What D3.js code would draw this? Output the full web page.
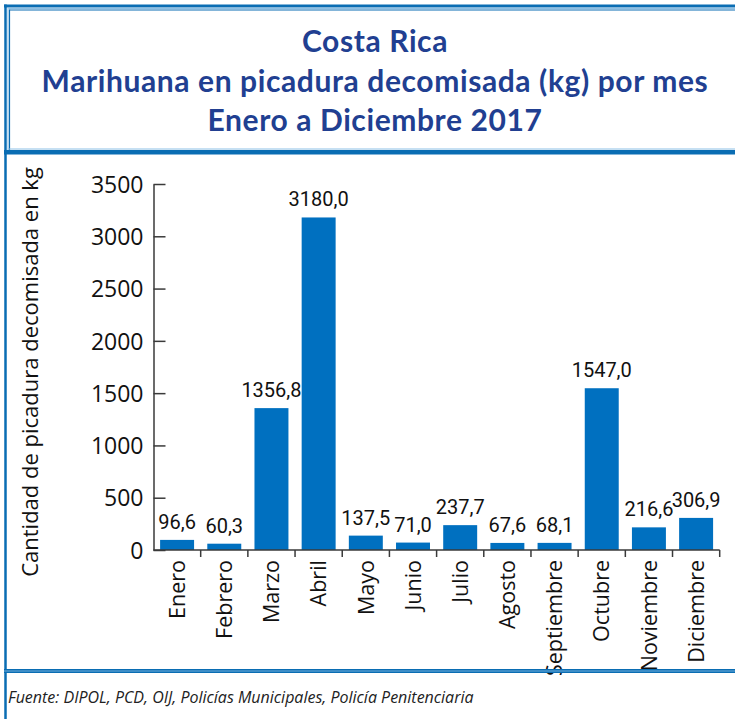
<!DOCTYPE html>
<html><head><meta charset="utf-8">
<script src="https://cdn.jsdelivr.net/npm/d3@7"></script>
<style>
html,body{margin:0;padding:0;background:#fff;}
svg{display:block;}
</style></head>
<body>
<svg id="c" width="735" height="719"></svg>
<script>
const titleLines = ["Costa Rica", "Marihuana en picadura decomisada (kg) por mes", "Enero a Diciembre 2017"];
const months = ["Enero","Febrero","Marzo","Abril","Mayo","Junio","Julio","Agosto","Septiembre","Octubre","Noviembre","Diciembre"];
const values = [96.6, 60.3, 1356.8, 3180.0, 137.5, 71.0, 237.7, 67.6, 68.1, 1547.0, 216.6, 306.9];
const valueLabels = ["96,6","60,3","1356,8","3180,0","137,5","71,0","237,7","67,6","68,1","1547,0","216,6","306,9"];
const yTicks = [0,500,1000,1500,2000,2500,3000,3500];
const yTitle = "Cantidad de picadura decomisada en kg";
const source = "Fuente: DIPOL, PCD, OIJ, Policías Municipales, Policía Penitenciaria";

const svg = d3.select("#c");
const dark = "#0a6db3", light = "#8cc0e6", titleCol = "#213f91", barCol = "#0070c0", axisCol = "#3a3a3a";

// Frame
const fr = svg.append("g");
fr.append("line").attr("x1",4).attr("x2",735).attr("y1",6).attr("y2",6).attr("stroke",dark).attr("stroke-width",3);
fr.append("line").attr("x1",8.5).attr("x2",735).attr("y1",8.5).attr("y2",8.5).attr("stroke",light).attr("stroke-width",1);
fr.append("line").attr("x1",9.5).attr("x2",735).attr("y1",10).attr("y2",10).attr("stroke",dark).attr("stroke-width",1.2);
fr.append("line").attr("x1",5.5).attr("x2",5.5).attr("y1",4.5).attr("y2",719).attr("stroke",dark).attr("stroke-width",2.5);
fr.append("line").attr("x1",8).attr("x2",8).attr("y1",8).attr("y2",150).attr("stroke",light).attr("stroke-width",1);
fr.append("line").attr("x1",9.5).attr("x2",9.5).attr("y1",9.5).attr("y2",150).attr("stroke",dark).attr("stroke-width",1.2);
fr.append("line").attr("x1",8).attr("x2",735).attr("y1",149).attr("y2",149).attr("stroke",light).attr("stroke-width",1);
fr.append("line").attr("x1",4).attr("x2",735).attr("y1",152.2).attr("y2",152.2).attr("stroke",dark).attr("stroke-width",4.4);

// Title
svg.append("g").selectAll("text").data(titleLines).join("text")
  .attr("x", 375).attr("y", (d,i)=>[52,92,131][i])
  .attr("text-anchor","middle")
  .attr("font-family","Lato, 'Open Sans', sans-serif").attr("font-weight","bold")
  .attr("font-size", 30).attr("letter-spacing", 0.6).attr("fill", titleCol).text(d=>d);

// Scales
const x = d3.scaleBand().domain(months).range([153.5, 719.7]).paddingInner(0.28).paddingOuter(0.14);
const y = d3.scaleLinear().domain([0,3500]).range([550,184]);

// Y axis
const ya = svg.append("g").attr("transform","translate(153.5,0)")
  .call(d3.axisLeft(y).tickValues(yTicks).tickSizeInner(-12).tickSizeOuter(0).tickPadding(10).tickFormat(d3.format("d")));
ya.select(".domain").attr("stroke",axisCol).attr("stroke-width",1.5);
ya.selectAll(".tick line").attr("stroke",axisCol).attr("stroke-width",1.5);
ya.selectAll(".tick text").attr("font-family","'Open Sans', sans-serif").attr("font-size",23).attr("fill","#111").attr("dy","0.36em");

// Bars
svg.append("g").selectAll("rect").data(values).join("rect")
  .attr("x",(d,i)=>x(months[i])).attr("width",x.bandwidth())
  .attr("y",d=>y(d)).attr("height",d=>y(0)-y(d)).attr("fill",barCol);

// Value labels
svg.append("g").selectAll("text").data(values).join("text")
  .attr("x",(d,i)=>x(months[i])+x.bandwidth()/2).attr("y",d=>y(d)-11)
  .attr("text-anchor","middle").attr("font-family","Roboto, sans-serif").attr("font-size",20).attr("fill","#111")
  .text((d,i)=>valueLabels[i]);

// X axis baseline and boundary ticks
const xa = svg.append("g");
xa.append("line").attr("x1",x.range()[0]).attr("x2",x.range()[1]).attr("y1",y(0)).attr("y2",y(0)).attr("stroke",axisCol).attr("stroke-width",1.5);
const gap = x.step()-x.bandwidth();
xa.selectAll("line.tk").data(months).join("line").attr("class","tk")
  .attr("x1",d=>x(d)+x.bandwidth()+gap/2).attr("x2",d=>x(d)+x.bandwidth()+gap/2)
  .attr("y1",y(0)).attr("y2",y(0)+7).attr("stroke",axisCol).attr("stroke-width",1.5);
xa.selectAll("text").data(months).join("text")
  .attr("transform",d=>`translate(${x(d)+x.bandwidth()/2},${y(0)+10}) rotate(-90)`)
  .attr("text-anchor","end").attr("dy","0.36em")
  .attr("font-family","'Open Sans', sans-serif").attr("font-size",21.5).attr("fill","#111").text(d=>d);

// Footer separator (drawn over labels like reference)
fr.raise();
svg.append("line").attr("x1",4).attr("x2",735).attr("y1",671).attr("y2",671).attr("stroke",dark).attr("stroke-width",4);
svg.append("line").attr("x1",4).attr("x2",735).attr("y1",671).attr("y2",671).attr("stroke",light).attr("stroke-width",0.8);

// Y title
svg.append("text").attr("transform","translate(30,372) rotate(-90)")
  .attr("text-anchor","middle").attr("dy","0.36em")
  .attr("font-family","'Open Sans', sans-serif").attr("font-size",22).attr("fill","#111").text(yTitle);

// Source
svg.append("text").attr("x",8).attr("y",703)
  .attr("font-family","'Open Sans', sans-serif").attr("font-style","italic").attr("font-size",16).attr("fill","#222").text(source);
</script>
</body></html>
